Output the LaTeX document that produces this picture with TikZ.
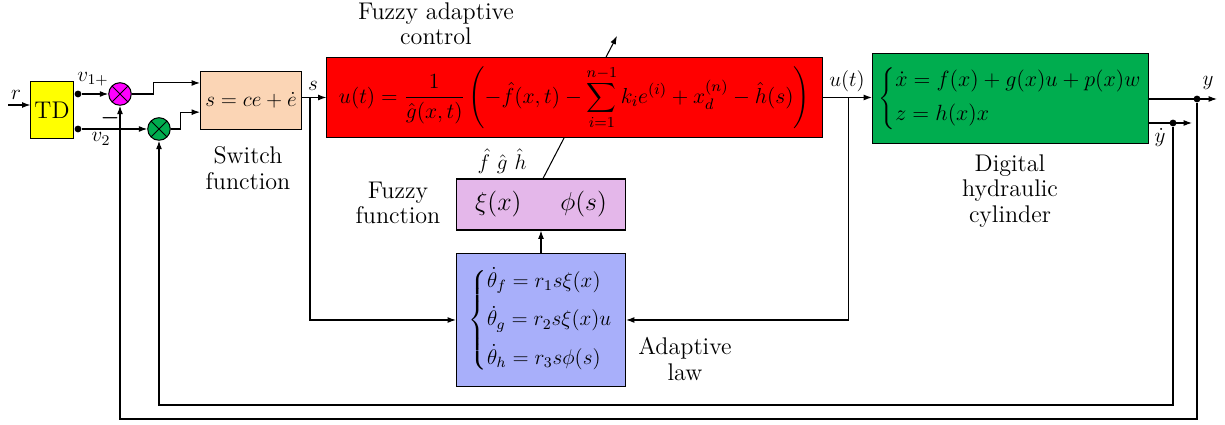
\RequirePackage{fix-cm}
\documentclass[tikz,border=0pt]{standalone}
\usepackage{xcolor}
\usepackage{amsmath}
\usepackage{tikz}
\usetikzlibrary{positioning, arrows.meta, calc}

\definecolor{tdyellow}{RGB}{255,255,0}
\definecolor{summag}{RGB}{255,0,255}
\definecolor{plantgreen}{RGB}{0,173,79}
\definecolor{swpeach}{RGB}{251,213,181}
\definecolor{fzpink}{RGB}{228,183,234}
\definecolor{lawblue}{RGB}{168,175,250}

\begin{document}
\begin{tikzpicture}[
  x=0.0204cm, y=-0.0204cm,
  every node/.style={align=center, font=\fontsize{12.3}{15}\selectfont},
  lbl/.style={font=\fontsize{14}{14.8}\selectfont},
  block/.style={draw, line width=0.6pt, inner sep=0pt},
  summer/.style={draw, circle, line width=0.6pt, minimum size=4.6mm, inner sep=0pt,
                 path picture={\draw (path picture bounding box.north west) -- (path picture bounding box.south east)
                                     (path picture bounding box.north east) -- (path picture bounding box.south west);}},
  dot/.style={circle, fill, inner sep=0pt, minimum size=1.4mm},
  arrow/.style={-{Latex[length=1.7mm, width=1.2mm]}, line width=0.6pt}
]
\useasboundingbox (0,0) rectangle (1225,425);

% input and tracking differentiator
\node[block, fill=tdyellow, minimum width=0.86cm, minimum height=1.18cm, font=\fontsize{14}{16}\selectfont] (td) at (52,110) {TD};
\coordinate (rin) at (8,105);
\draw[arrow] (rin) -- (rin -| td.west);
\node (rlbl) at (16,95) {$r$};

\node[summer, fill=summag] (sum1) at (120,94) {};
\node[summer, fill=plantgreen] (sum2) at (159,129) {};
\node[dot] (v1dot) at (78,94) {};
\node[dot] (v2dot) at (78,129) {};
\draw[arrow] (v1dot) -- (sum1);
\draw[arrow] (v2dot) -- (sum2);
\node (v1lbl) at (93,79) {$v_{1+}$};
\node (v2lbl) at (101,139) {$v_2$};
\node (minus) at (110,118) {$\boldsymbol{-}$};

% switch function
\node[block, fill=swpeach, minimum width=2.06cm, minimum height=1.17cm] (switch) at (251,100.5) {$s=ce+\dot e$};
\node[lbl] (swlbl) at (248,168) {Switch\\function};
\draw[arrow] (sum1.east) -- ++(22,0) |- ($(switch.north west)!0.2!(switch.south west)$);
\draw[arrow] (sum2.east) -- ++(10,0) |- ($(switch.north west)!0.7!(switch.south west)$);

% fuzzy function and adaptive law
\node[block, fill=fzpink, minimum width=3.43cm, minimum height=1.04cm, font=\fontsize{15}{17}\selectfont] (fuzzy) at (541,204.5)
  {$\xi(x)\hspace{1.5em}\phi(s)$};
\node[lbl] (fzlbl) at (398,203) {Fuzzy\\function};
\node (hatlbl) at (502,161) {$\hat f\ \hat g\ \hat h$};
\node[block, fill=lawblue, minimum width=3.45cm, minimum height=2.73cm] (law) at (541,320)
  {$\left\{\begin{array}{@{}l@{}}\dot\theta_f=r_1s\xi(x)\\[6.5pt] \dot\theta_g=r_2s\xi(x)u\\[6.5pt] \dot\theta_h=r_3s\phi(s)\end{array}\right.$};
\node[lbl] (lawlbl) at (685,359) {Adaptive\\law};
\draw[arrow] (law.north) -- (fuzzy.south);
\coordinate (adj) at (617,36);
\draw[arrow] ($(fuzzy.north)+(2,0)$) -- (adj);

% fuzzy adaptive controller
\node[block, fill=red, minimum width=10.1cm, minimum height=1.65cm, font=\fontsize{12.6}{15}\selectfont] (ctrl) at (574.5,97.5)
  {$\displaystyle u(t)=\frac{1}{\hat g(x,t)}\left(-\hat f(x,t)-\sum_{i=1}^{n-1}k_ie^{(i)}+x_d^{(n)}-\hat h(s)\right)$};
\node[lbl] (ctrllbl) at (436,24) {Fuzzy adaptive\\control};
\draw[arrow] (switch.east |- ctrl.west) -- (ctrl.west);
\node (slbl) at (313,86) {$s$};
\draw[arrow] ($(switch.east |- ctrl.west)+(8,0)$) |- (law.west);

% hydraulic cylinder
\node[block, fill=plantgreen, minimum width=5.63cm, minimum height=1.84cm, font=\fontsize{12.8}{15}\selectfont] (plant) at (1010.5,98.5)
  {$\left\{\begin{array}{@{}l@{}}\dot x=f(x)+g(x)u+p(x)w\\[5pt] z=h(x)x\end{array}\right.$};
\node[lbl] (plantlbl) at (1010,191) {Digital\\hydraulic\\cylinder};
\draw[arrow] (ctrl.east) -- (ctrl.east -| plant.west);
\node (ulbl) at (847,81) {$u(t)$};
\draw[arrow] ($(ctrl.east)+(26,0)$) |- (law.east);

% outputs and feedback
\coordinate (yend) at (1217,99);
\coordinate (ydend) at (1192,123);
\draw[arrow] (plant.east |- yend) -- (yend);
\draw[arrow] (plant.east |- ydend) -- (ydend);
\node[dot] (ydot) at (1197,99) {};
\node[dot] (yddot) at (1173,123) {};
\node (ylbl) at (1208,83) {$y$};
\node (ydlbl) at (1160,138) {$\dot y$};
\draw[arrow] (ydot) -- ++(0,320) -| (sum1.south);
\draw[arrow] (yddot) -- ++(0,282) -| (sum2.south);

\end{tikzpicture}
\end{document}
